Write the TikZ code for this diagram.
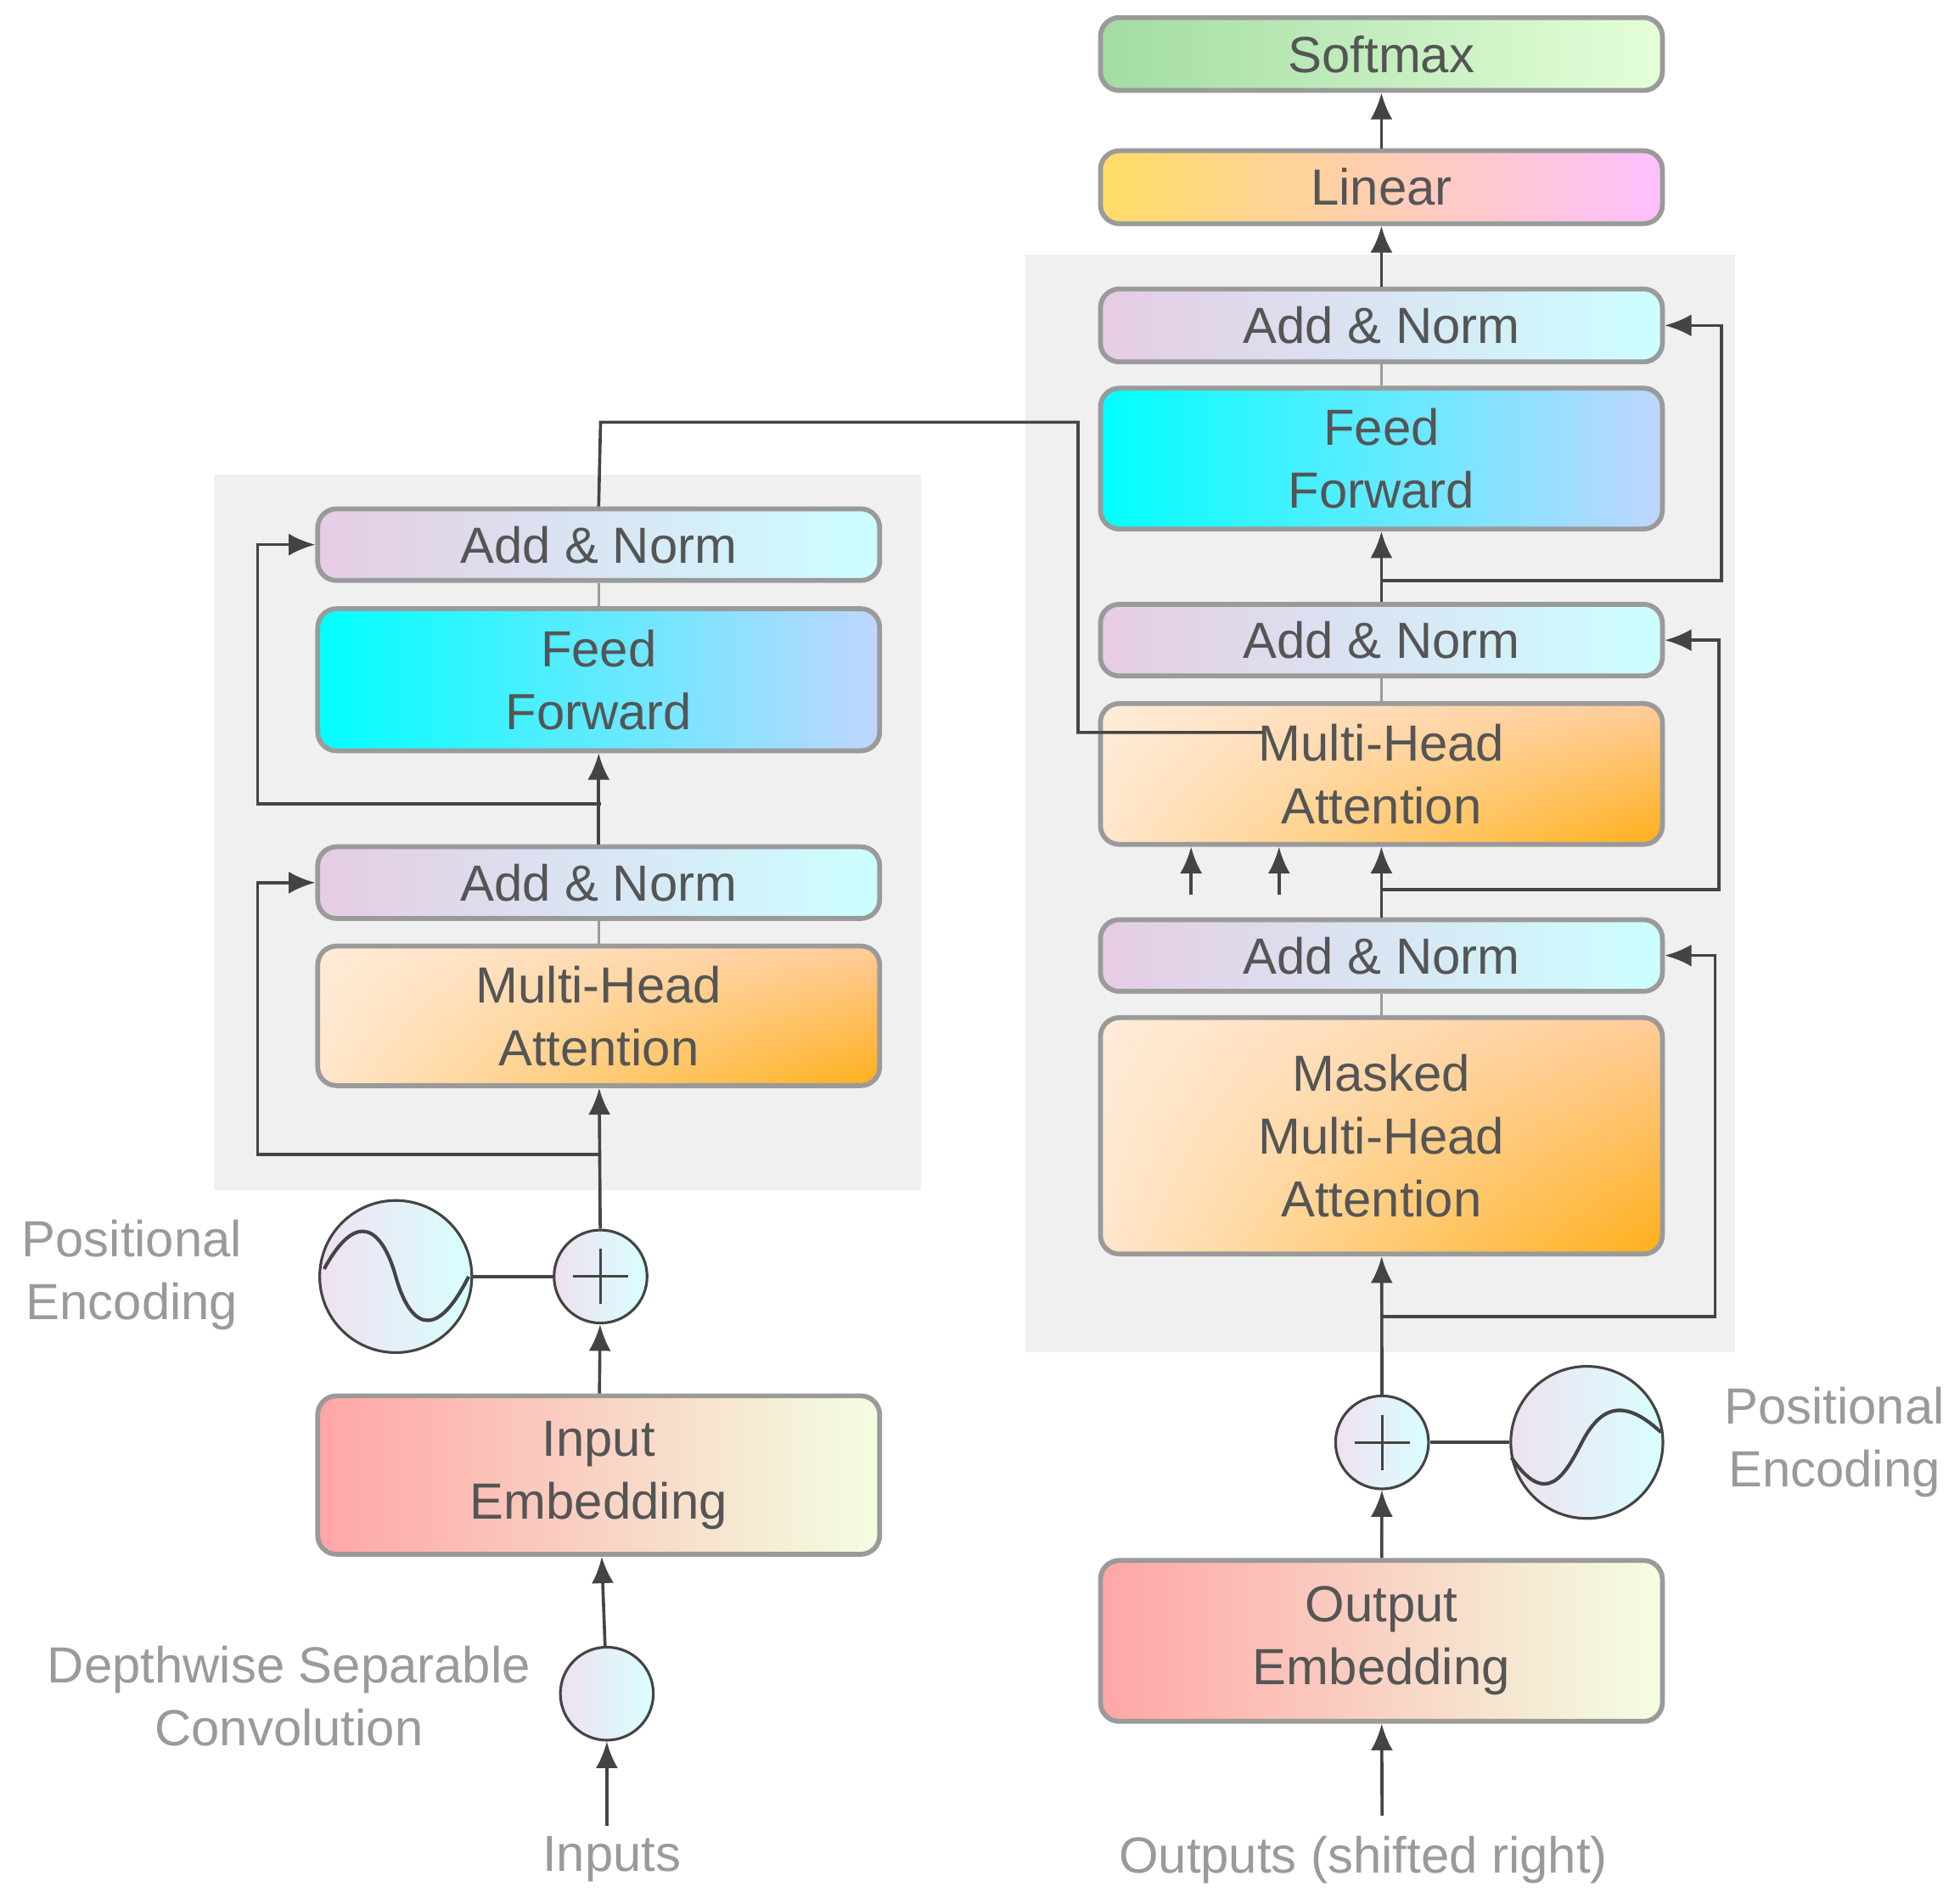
\documentclass[tikz,border=0pt]{standalone}
\usepackage{fontspec}
\setmainfont{Liberation Sans}
\usetikzlibrary{arrows.meta,shadings}
\definecolor{tx}{HTML}{555555}
\definecolor{lt}{HTML}{9A9A9A}
\definecolor{ln}{HTML}{444444}
\begin{document}
\begin{tikzpicture}[x=0.01cm,y=-0.01cm,
 box/.style={draw=lt,line width=1.1pt,rounded corners=0.15cm,inner sep=0pt,align=center,text=tx,font=\fontsize{11.5}{14.2}\selectfont,minimum width=4.47cm},
 an/.style={box,left color=violet!20!white,right color=cyan!20!white,minimum height=0.57cm},
 ff/.style={box,left color=cyan,right color=cyan!35!blue!25!white,minimum height=1.13cm},
 mha/.style={box,upper left=orange!15!white,upper right=orange!40!white,lower left=orange!20!white,lower right=orange!70!yellow!90!white},
 emb/.style={box,left color=red!35!white,right color=green!40!yellow!12!white},
 arr/.style={-{Latex[length=6pt,width=5pt]},draw=ln,line width=0.7pt},
 ln/.style={draw=ln,line width=0.7pt},
 lab/.style={text=lt,align=center,font=\fontsize{11.5}{14.2}\selectfont},
 sine/.style={circle,draw=ln,line width=0.6pt,minimum size=1.21cm,left color=violet!12!white,right color=cyan!15!white,inner sep=0pt},
 plus/.style={circle,draw=ln,line width=0.6pt,minimum size=0.74cm,left color=violet!12!white,right color=cyan!15!white,inner sep=0pt},
 sm/.style={circle,draw=ln,line width=0.6pt,minimum size=0.74cm,left color=violet!12!white,right color=cyan!15!white}]
\useasboundingbox (0,0) rectangle (1560,1515);
\fill[gray!12] (170,378) rectangle (733,947);
\fill[gray!12] (816,203) rectangle (1381,1076);
% left
\node[an] (lan2) at (476.5,433.5) {Add \& Norm};
\node[ff] (lff) at (476.5,541) {Feed\\Forward};
\node[an] (lan1) at (476.5,702.5) {Add \& Norm};
\node[mha,minimum height=1.11cm] (lmha) at (476.5,808.5) {Multi-Head\\Attention};
\node[emb,minimum height=1.26cm] (lemb) at (476.5,1174) {Input\\Embedding};
\node[sine] (lsin) at (315,1016) {};
\node[plus] (lplus) at (478,1016) {};
\node[sm] (dw) at (483,1348) {};
\node[lab] (lpe) at (105,1015) {Positional\\Encoding};
\node[lab] (dwl) at (230,1350) {Depthwise Separable\\Convolution};
\node[lab] (inp) at (487,1480) {Inputs};
% right
\node[box,left color=green!45!gray!50!white,right color=yellow!30!green!15!white,minimum height=0.58cm] (soft) at (1099.5,43) {Softmax};
\node[box,left color=yellow!55!orange!60!white,right color=magenta!25!white,minimum height=0.58cm] (lin) at (1099.5,149) {Linear};
\node[an,minimum height=0.58cm] (ran3) at (1099.5,259) {Add \& Norm};
\node[ff,minimum height=1.12cm] (rff) at (1099.5,365) {Feed\\Forward};
\node[an] (ran2) at (1099.5,509.5) {Add \& Norm};
\node[mha,minimum height=1.12cm] (rmha) at (1099.5,616) {Multi-Head\\Attention};
\node[an] (ran1) at (1099.5,760.5) {Add \& Norm};
\node[mha,minimum height=1.88cm] (rmm) at (1099.5,904) {Masked\\Multi-Head\\Attention};
\node[emb,minimum height=1.28cm] (remb) at (1099.5,1306) {Output\\Embedding};
\node[plus] (rplus) at (1100,1148) {};
\node[sine] (rsin) at (1263,1148) {};
\node[lab] (rpe) at (1460,1148) {Positional\\Encoding};
\node[lab] (outp) at (1085,1480) {Outputs (shifted right)};
% sine curves and plus signs
\draw[ln,line width=0.8pt] (258,1010) .. controls (285,960) and (305,980) .. (315,1016) .. controls (325,1052) and (345,1072) .. (373,1016);
\draw[ln,line width=0.8pt] (1203,1160) .. controls (1230,1200) and (1245,1175) .. (1258,1150) .. controls (1272,1122) and (1290,1110) .. (1322,1140);
\draw[ln,line width=0.6pt] (lplus.center)+(-22,0) -- +(22,0) (lplus.center)+(0,-22) -- +(0,22);
\draw[ln,line width=0.6pt] (rplus.center)+(-22,0) -- +(22,0) (rplus.center)+(0,-22) -- +(0,22);
% left connectors
\coordinate (ina) at (483,1453);
\draw[arr] (ina) -- (dw);
\draw[arr] (dw) -- (lemb);
\draw[arr] (lemb) -- (lplus);
\draw[ln] (lsin) -- (lplus);
\draw[arr] (lplus) -- (lmha);
\draw[lt,line width=0.6pt] (lmha) -- (lan1) (lff) -- (lan2);
\coordinate (r1) at (478,919);
\draw[arr] (r1) -- (205,919) |- (lan1.west);
\draw[arr] (lan1) -- (lff);
\coordinate (r2) at (478,640);
\draw[arr] (r2) -- (205,640) |- (lan2.west);
\coordinate (ce) at (1005,583);
\draw[ln] (lan2.north) -- (478,336) -- (858,336) |- (ce);
\coordinate (k1) at (948,712); \coordinate (k1e) at (948,674);
\coordinate (k2) at (1018,712); \coordinate (k2e) at (1018,674);
\draw[arr] (k1) -- (k1e);
\draw[arr] (k2) -- (k2e);
% right connectors
\coordinate (outa) at (1100,1445);
\draw[arr] (outa) -- (remb);
\draw[arr] (remb) -- (rplus);
\draw[ln] (rplus) -- (rsin);
\draw[arr] (rplus) -- (rmm);
\draw[lt,line width=0.6pt] (rmm) -- (ran1) (rmha) -- (ran2) (rff) -- (ran3);
\coordinate (q1) at (1100,1048);
\draw[arr] (q1) -- (1365,1048) |- (ran1.east);
\draw[arr] (ran1) -- (rmha);
\coordinate (q2) at (1100,708);
\draw[arr] (q2) -- (1368,708) |- (ran2.east);
\draw[arr] (ran2) -- (rff);
\coordinate (q3) at (1100,462);
\draw[arr] (q3) -- (1370,462) |- (ran3.east);
\draw[arr] (ran3) -- (lin);
\draw[arr] (lin) -- (soft);
\end{tikzpicture}
\end{document}
